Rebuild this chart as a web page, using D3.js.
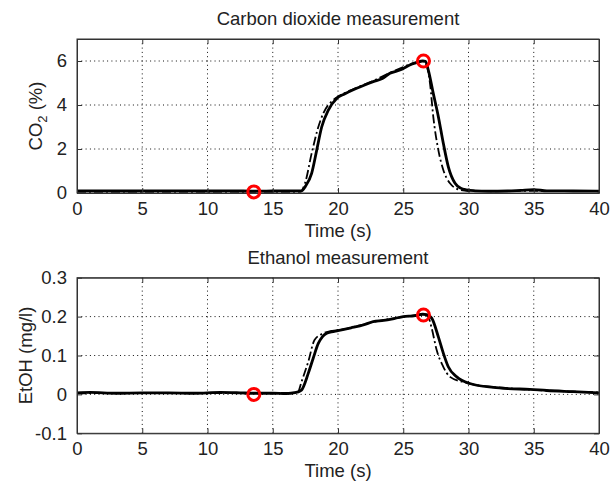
<!DOCTYPE html>
<html>
<head>
<meta charset="utf-8">
<script src="https://cdn.jsdelivr.net/npm/d3@7"></script>
<style>
  body { margin: 0; background: #fff; }
  text { font-family: "Liberation Sans", Arial, sans-serif; fill: #222; }
  .grid line { stroke: #111; stroke-width: 1; stroke-dasharray: 1,3.3; }
  .axis path, .axis line { stroke: #333; }
</style>
</head>
<body>
<svg width="610" height="485"></svg>
<script>
// x ticks shared by both panels
var timeTicks = [0, 5, 10, 15, 20, 25, 30, 35, 40];

// carbon dioxide, measured (solid) and model (dash-dot)
var co2Time = [0, 2, 4, 6, 8, 10, 12, 13.5, 15, 16.5, 17.2, 17.5, 17.98, 18.37, 18.75, 19.26, 19.9, 20.5, 21.43, 22.0, 22.7, 23.4, 23.98, 24.8, 25.5, 26.0, 26.5, 26.7, 26.92, 27.3, 27.69, 28.07, 28.45, 28.97, 29.4, 29.86, 30.5, 31.5, 33, 34, 35, 36, 38, 40];
var co2Meas = [0.1, 0.1, 0.09, 0.1, 0.1, 0.09, 0.1, 0.08, 0.09, 0.1, 0.1, 0.3, 0.89, 1.95, 3.0, 3.77, 4.3, 4.5, 4.76, 4.9, 5.06, 5.2, 5.44, 5.6, 5.82, 5.92, 6.0, 5.98, 5.59, 4.53, 3.47, 2.26, 1.2, 0.44, 0.22, 0.14, 0.1, 0.08, 0.09, 0.12, 0.15, 0.1, 0.09, 0.08];
var co2ModelTime = [0, 17.1, 17.47, 17.98, 18.49, 18.87, 19.64, 20.2, 21.43, 22.7, 23.98, 25.5, 26.5, 26.8, 27.05, 27.3, 27.69, 28.07, 28.58, 29.35, 30, 32, 35, 40];
var co2Model = [0.05, 0.05, 0.44, 1.8, 3.0, 3.62, 4.23, 4.45, 4.78, 5.1, 5.46, 5.84, 6.0, 5.8, 4.98, 3.47, 1.95, 1.05, 0.44, 0.14, 0.09, 0.08, 0.1, 0.08];
var co2Marks = [[13.55, 0.05], [26.55, 6.0]];
var co2Ticks = [0, 2, 4, 6];

// ethanol, measured (solid) and model (dash-dot)
var etohTime = [0, 1, 3, 5, 7, 9, 11, 12.5, 13.5, 15, 16, 16.8, 17.2, 17.72, 18.1, 18.49, 18.8, 19.13, 19.5, 20.0, 21.0, 22.0, 22.7, 23.5, 24.3, 25.0, 25.8, 26.5, 26.8, 27.18, 27.69, 28.07, 28.45, 29.1, 30.1, 31.9, 33.0, 34.7, 36, 38, 40];
var etohMeas = [0.004, 0.005, 0.003, 0.004, 0.004, 0.003, 0.005, 0.004, 0.003, 0.003, 0.002, 0.005, 0.011, 0.054, 0.093, 0.131, 0.148, 0.157, 0.161, 0.164, 0.171, 0.179, 0.187, 0.19, 0.195, 0.2, 0.202, 0.206, 0.205, 0.196, 0.148, 0.106, 0.071, 0.045, 0.028, 0.018, 0.015, 0.013, 0.01, 0.007, 0.004];
var etohModelTime = [0, 16.9, 17.2, 17.72, 18.2, 18.87, 19.5, 20.5, 22.7, 25.0, 26.5, 26.9, 27.18, 27.56, 28.07, 28.58, 29.6, 30.5, 33, 36, 40];
var etohModel = [0.003, 0.004, 0.032, 0.084, 0.14, 0.157, 0.163, 0.168, 0.186, 0.199, 0.205, 0.2, 0.17, 0.114, 0.071, 0.045, 0.032, 0.025, 0.016, 0.01, 0.005];
var etohMarks = [[13.55, 0.0], [26.55, 0.204]];
var etohTicks = [-0.1, 0, 0.1, 0.2, 0.3];

var svg = d3.select("svg");

function zip(ts, vs) {
  return ts.map(function(t, i) { return [t, vs[i]]; });
}

function panel(o) {
  var x = d3.scaleLinear().domain([0, 40]).range([77, 599]);
  var y = d3.scaleLinear().domain(o.domain).range([o.bottom, o.top]);
  var g = svg.append("g");

  // dotted grid
  var grid = g.append("g").attr("class", "grid");
  grid.selectAll(".gx")
    .data(timeTicks.slice(1, -1))
    .enter().append("line")
      .attr("x1", x).attr("x2", x)
      .attr("y1", o.top).attr("y2", o.bottom);
  grid.selectAll(".gy")
    .data(o.ticks.filter(function(d) { return y(d) > o.top + 1 && y(d) < o.bottom - 1; }))
    .enter().append("line")
      .attr("x1", 77).attr("x2", 599)
      .attr("y1", y).attr("y2", y);

  var line = d3.line()
      .x(function(d) { return x(d[0]); })
      .y(function(d) { return y(d[1]); })
      .curve(d3.curveMonotoneX);

  g.append("path")
      .datum(zip(o.modelT, o.model))
      .attr("fill", "none")
      .attr("stroke", "#000")
      .attr("stroke-width", 1.8)
      .attr("stroke-dasharray", "9,3,2,3")
      .attr("d", line);

  g.append("path")
      .datum(zip(o.measT, o.meas))
      .attr("fill", "none")
      .attr("stroke", "#000")
      .attr("stroke-width", 2.8)
      .attr("d", line);

  // axes with inward ticks on all four sides
  g.append("g").attr("class", "axis")
      .attr("transform", "translate(0," + o.bottom + ")")
      .call(d3.axisBottom(x).tickValues(timeTicks).tickSizeInner(-5).tickSizeOuter(0).tickPadding(9))
      .call(function(s) { s.selectAll("text").attr("font-size", 18.5).attr("dy", "0.71em"); });
  g.append("g").attr("class", "axis")
      .attr("transform", "translate(0," + o.top + ")")
      .call(d3.axisTop(x).tickValues(timeTicks).tickSizeInner(-5).tickSizeOuter(0).tickFormat(""));
  g.append("g").attr("class", "axis")
      .attr("transform", "translate(77,0)")
      .call(d3.axisLeft(y).tickValues(o.ticks).tickSizeInner(-5).tickSizeOuter(0).tickPadding(10).tickFormat(o.fmt))
      .call(function(s) { s.selectAll("text").attr("font-size", 18.5); });
  g.append("g").attr("class", "axis")
      .attr("transform", "translate(599,0)")
      .call(d3.axisRight(y).tickValues(o.ticks).tickSizeInner(-5).tickSizeOuter(0).tickFormat(""));
  g.selectAll(".axis text").attr("fill", "#222").style("font-family", "Liberation Sans, Arial, sans-serif");

  g.append("rect")
      .attr("x", 77).attr("y", o.top)
      .attr("width", 522).attr("height", o.bottom - o.top)
      .attr("fill", "none").attr("stroke", "#333");

  g.selectAll(".mark")
    .data(o.marks)
    .enter().append("circle")
      .attr("cx", function(d) { return x(d[0]); })
      .attr("cy", function(d) { return y(d[1]); })
      .attr("r", 6)
      .attr("fill", "none")
      .attr("stroke", "#f00")
      .attr("stroke-width", 3);

  g.append("text")
      .attr("x", 338).attr("y", o.top - 14)
      .attr("text-anchor", "middle")
      .attr("font-size", 18.5)
      .text(o.title);

  g.append("text")
      .attr("x", 338).attr("y", o.bottom + 44)
      .attr("text-anchor", "middle")
      .attr("font-size", 18.5)
      .text("Time (s)");

  var yl = g.append("text")
      .attr("transform", "translate(" + o.ylx + "," + ((o.top + o.bottom) / 2) + ") rotate(-90)")
      .attr("text-anchor", "middle")
      .attr("font-size", 18.5);
  o.ylabel(yl);
}

panel({
  top: 39, bottom: 193, domain: [0, 7], ticks: co2Ticks, fmt: d3.format("d"),
  measT: co2Time, meas: co2Meas, modelT: co2ModelTime, model: co2Model, marks: co2Marks,
  title: "Carbon dioxide measurement", ylx: 42,
  ylabel: function(t) {
    t.append("tspan").text("CO");
    t.append("tspan").attr("font-size", 13).attr("dy", 5).text("2");
    t.append("tspan").attr("dy", -5).text(" (%)");
  }
});

panel({
  top: 277.7, bottom: 433.3, domain: [-0.1, 0.3], ticks: etohTicks,
  fmt: function(d) { return d === 0 ? "0" : (d < 0 ? "-" : "") + Math.abs(d).toFixed(1); },
  measT: etohTime, meas: etohMeas, modelT: etohModelTime, model: etohModel, marks: etohMarks,
  title: "Ethanol measurement", ylx: 32,
  ylabel: function(t) { t.text("EtOH (mg/l)"); }
});
</script>
</body>
</html>
